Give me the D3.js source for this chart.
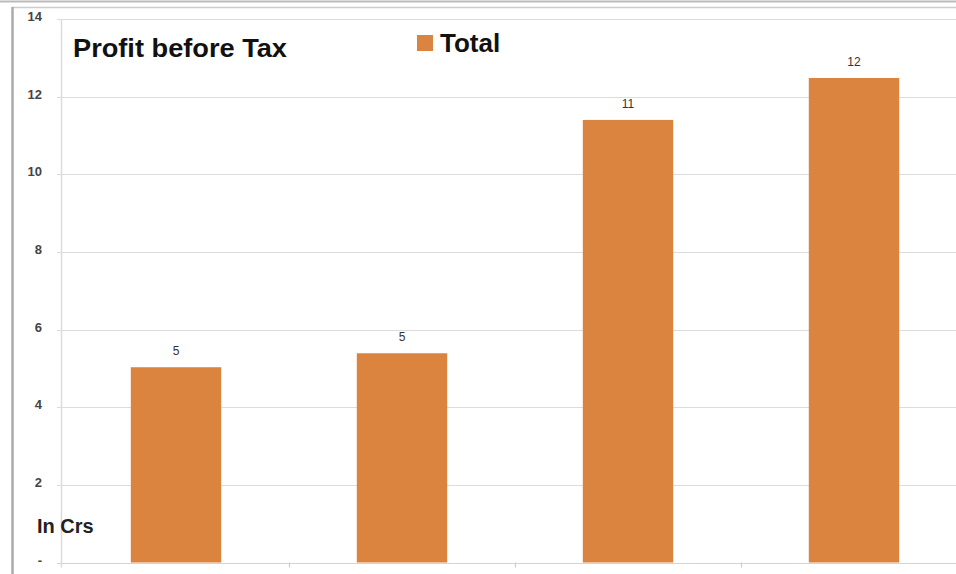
<!DOCTYPE html>
<html lang="en">
<head>
	<meta charset="utf-8">
	<script src="https://d3js.org/d3.v7.min.js"></script>
	<style>
		body {margin:0;background:#fff;}
		text {font-family: "Liberation Sans", Arial, sans-serif;}
	</style>
	<title>Profit before Tax</title>
</head>
<body>
<script>

	var categories = ["Q1", "Q2", "Q3", "Q4"];
	var totals = [5.03, 5.39, 11.4, 12.48];
	var barLabels = ["5", "5", "11", "12"];
	var yTicks = [0, 2, 4, 6, 8, 10, 12, 14];

	var width = 956, height = 574;
	var margin = {top: 19, left: 61, bottom: 12};

	var svg = d3.select("body").append("svg")
		.attr("width", width)
		.attr("height", height);

	// frame lines
	svg.append("line").attr("x1", 0).attr("x2", width).attr("y1", 1.5).attr("y2", 1.5)
		.attr("stroke", "#bbb").attr("stroke-width", 2);
	svg.append("line").attr("x1", 12).attr("x2", width).attr("y1", 7.5).attr("y2", 7.5)
		.attr("stroke", "#ccc").attr("stroke-width", 1.5);
	svg.append("line").attr("x1", 12.5).attr("x2", 12.5).attr("y1", 7).attr("y2", height)
		.attr("stroke", "#aaa").attr("stroke-width", 2.5);

	var y = d3.scaleLinear().domain([0, 14]).range([562.5, margin.top]);
	var x = d3.scaleBand().domain(categories).range([margin.left + 2, margin.left + 2 + 226 * 4]).paddingInner(0.6).paddingOuter(0.3);

	// gridlines
	svg.selectAll("line.grid").data(yTicks).enter()
		.append("line")
		.attr("class", "grid")
		.attr("x1", 57).attr("x2", width)
		.attr("y1", function(d) {return Math.round(y(d)) + 0.5;})
		.attr("y2", function(d) {return Math.round(y(d)) + 0.5;})
		.attr("stroke", function(d) {return d === 0 ? "#d4d4d4" : "#dcdcdc";})
		.attr("stroke-width", 1.2);

	// y axis line
	svg.append("line").attr("x1", margin.left + 0.5).attr("x2", margin.left + 0.5)
		.attr("y1", y(14)).attr("y2", y(0) + 5)
		.attr("stroke", "#dcdcdc").attr("stroke-width", 1.5);

	// category ticks
	svg.selectAll("line.ctick").data(categories.slice(1)).enter()
		.append("line")
		.attr("class", "ctick")
		.attr("x1", function(d) {return Math.round(x(d) - (x.step() - x.bandwidth()) / 2) + 0.5;})
		.attr("x2", function(d) {return Math.round(x(d) - (x.step() - x.bandwidth()) / 2) + 0.5;})
		.attr("y1", y(0)).attr("y2", y(0) + 5)
		.attr("stroke", "#ccc").attr("stroke-width", 1.2);

	// y tick labels
	svg.selectAll("text.ytick").data(yTicks).enter()
		.append("text")
		.attr("class", "ytick")
		.attr("x", 42)
		.attr("y", function(d) {return y(d) + 2;})
		.attr("text-anchor", "end")
		.attr("font-size", 13)
		.attr("font-weight", "bold")
		.attr("fill", "#444")
		.text(function(d) {return d === 0 ? "-" : d;});

	// bars
	svg.selectAll("rect.bar").data(totals).enter()
		.append("rect")
		.attr("class", "bar")
		.attr("x", function(d, i) {return x(categories[i]);})
		.attr("y", function(d) {return y(d);})
		.attr("width", x.bandwidth())
		.attr("height", function(d) {return y(0) - y(d);})
		.attr("fill", "#db843f");

	// value labels
	svg.selectAll("text.val").data(totals).enter()
		.append("text")
		.attr("class", "val")
		.attr("x", function(d, i) {return x(categories[i]) + x.bandwidth() / 2;})
		.attr("y", function(d) {return y(d) - 12;})
		.attr("text-anchor", "middle")
		.attr("font-size", 12)
		.attr("fill", "#333")
		.text(function(d, i) {return barLabels[i];});

	// title
	svg.append("text")
		.attr("x", 73).attr("y", 57)
		.attr("font-size", 26)
		.attr("font-weight", "bold")
		.attr("fill", "#111")
		.attr("textLength", 214)
		.attr("lengthAdjust", "spacingAndGlyphs")
		.text("Profit before Tax");

	// legend
	svg.append("rect").attr("x", 417).attr("y", 35).attr("width", 16).attr("height", 16).attr("fill", "#db843f");
	svg.append("text")
		.attr("x", 440).attr("y", 52)
		.attr("font-size", 26)
		.attr("font-weight", "bold")
		.attr("fill", "#111")
		.text("Total");

	// unit label
	svg.append("text")
		.attr("x", 37).attr("y", 533)
		.attr("font-size", 20)
		.attr("font-weight", "bold")
		.attr("fill", "#222")
		.text("In Crs");

</script>
</body>
</html>
